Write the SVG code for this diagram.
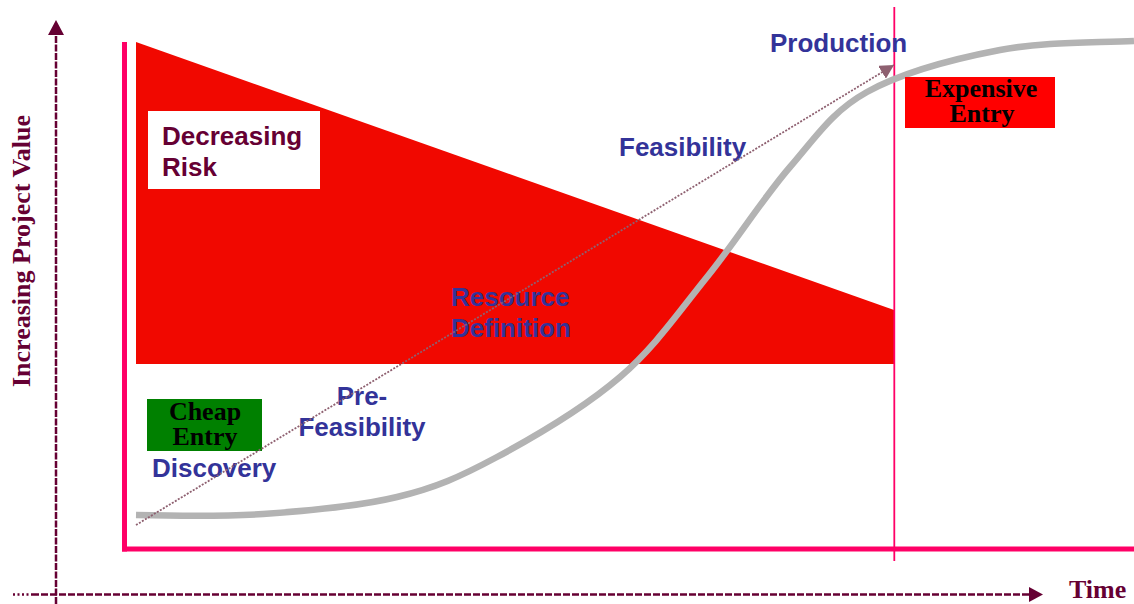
<svg xmlns="http://www.w3.org/2000/svg" width="1134" height="604" viewBox="0 0 1134 604">
  <defs>
    <style>
      .lbl { font-family: "Liberation Sans", Arial, sans-serif; font-weight: bold; font-size: 26px; fill: #333399; }
      .risk { font-family: "Liberation Sans", Arial, sans-serif; font-weight: bold; font-size: 26px; fill: #660033; }
      .serif { font-family: "Liberation Serif", "Times New Roman", serif; font-weight: bold; font-size: 26px; }
      .axis { stroke: #660033; stroke-width: 2.5; fill: none; }
      .frame { stroke: #FF0066; fill: none; }
    </style>
    <marker id="trendHead" markerUnits="userSpaceOnUse" markerWidth="15" markerHeight="15" refX="14" refY="7.5" orient="auto">
      <path d="M0,0 L14,7.5 L0,15 z" fill="#8E6070"/>
    </marker>
  </defs>

  <rect width="1134" height="604" fill="#ffffff"/>

  <!-- risk wedge -->
  <g id="risk-wedge">
    <polygon points="136,42 894,310 894,364 136,364" fill="#F10800"/>
  </g>

  <!-- chart frame -->
  <g id="frame">
    <line class="frame" x1="124.5" y1="42" x2="124.5" y2="551.5" stroke-width="5"/>
    <line class="frame" x1="122" y1="549" x2="1134" y2="549" stroke-width="5"/>
    <line class="frame" x1="894.3" y1="7" x2="894.3" y2="561" stroke-width="1.8"/>
  </g>

  <!-- axes -->
  <g id="axes">
    <line class="axis" x1="56" y1="604" x2="56" y2="34" stroke-dasharray="7 1.5"/>
    <polygon points="56,20 48,35 64,35" fill="#660033"/>
    <line class="axis" x1="13" y1="594.5" x2="32" y2="594.5" stroke-width="2" stroke-dasharray="2 2.5"/>
    <line class="axis" x1="32" y1="594.5" x2="1030" y2="594.5" stroke-dasharray="7 2"/>
    <polygon points="1043,594.5 1029,587 1029,602" fill="#660033"/>
  </g>

  <g id="label-y">
    <text class="serif" fill="#660033" transform="translate(30,387) rotate(-90)">Increasing Project Value</text>
  </g>
  <g id="label-x">
    <text class="serif" fill="#660033" x="1069" y="598">Time</text>
  </g>

  <!-- project value S-curve -->
  <g id="value-curve">
    <path d="M136,515 C176,516 219.5,517 263,514 C306.5,511 358,506.5 397,497 C436,487.5 459.8,477 497,457 C534.2,437 585,407 620,377 C655,347 678.7,312 707,277 C735.3,242 763.3,197.8 790,167 C816.7,136.2 832,111.5 867,92 C902,72.5 955.5,58.5 1000,50 C1044.5,41.5 1094,43 1134,41" fill="none" stroke="#B3B3B3" stroke-width="6.5"/>
  </g>

  <g id="decreasing-risk">
    <rect x="148" y="111" width="172" height="78" fill="#ffffff"/>
    <text class="risk" x="162" y="145">Decreasing</text>
    <text class="risk" x="162" y="176">Risk</text>
  </g>

  <g id="cheap-entry">
    <rect x="147" y="399" width="115" height="52" fill="#008000"/>
    <text class="serif" fill="#000000" x="205" y="420" text-anchor="middle">Cheap</text>
    <text class="serif" fill="#000000" x="205" y="445" text-anchor="middle">Entry</text>
  </g>

  <g id="expensive-entry">
    <rect x="905" y="77" width="150" height="51" fill="#FF0000"/>
    <text class="serif" fill="#000000" x="981" y="97" text-anchor="middle">Expensive</text>
    <text class="serif" fill="#000000" x="982" y="122" text-anchor="middle">Entry</text>
  </g>

  <g id="stage-discovery">
    <text class="lbl" x="152" y="477">Discovery</text>
  </g>
  <g id="stage-prefeasibility">
    <text class="lbl" x="362" y="405" text-anchor="middle">Pre-</text>
    <text class="lbl" x="362" y="436" text-anchor="middle">Feasibility</text>
  </g>
  <g id="stage-resource">
    <text class="lbl" x="451" y="306">Resource</text>
    <text class="lbl" x="451" y="337">Definition</text>
  </g>
  <g id="stage-feasibility">
    <text class="lbl" x="619" y="156">Feasibility</text>
  </g>
  <g id="stage-production">
    <text class="lbl" x="770" y="52">Production</text>
  </g>

  <!-- trend connector -->
  <g id="connectors">
    <line x1="136" y1="525" x2="894" y2="65" stroke="#8E6070" stroke-width="1.8" stroke-dasharray="2 1.5" marker-end="url(#trendHead)"/>
  </g>
</svg>
